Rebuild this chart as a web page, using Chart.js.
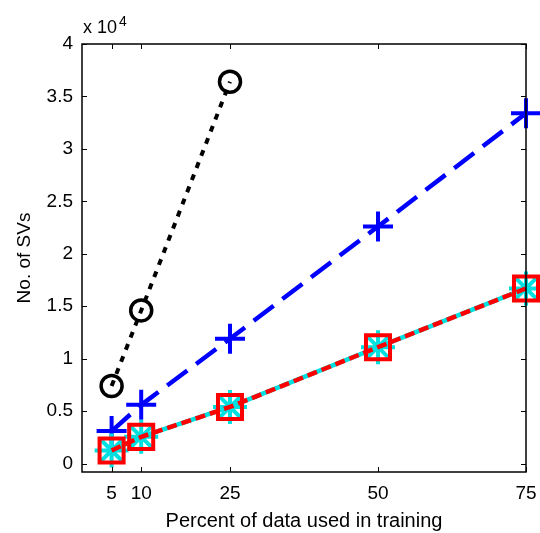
<!DOCTYPE html>
<html>
<head>
<meta charset="utf-8">
<script src="https://cdn.jsdelivr.net/npm/chart.js@4.4.1/dist/chart.umd.min.js"></script>
<style>
  html, body { margin: 0; padding: 0; background: #fff; }
  #wrap { width: 540px; height: 533px; }
</style>
</head>
<body>
<div id="wrap"><canvas id="svChart"></canvas></div>
<script>
// percent of data used in training
const percents = [5, 10, 25, 50, 75];
// number of support vectors per method
const blackCircles = [7400, 14600, 36400];
const blueCrosses = [3100, 5600, 11900, 22600, 33400];
const redSquares = [1250, 2550, 5400, 11100, 16700];
const cyanStars = [1250, 2550, 5400, 11100, 16700];

const xTicks = [5, 10, 25, 50, 75];
const yTicks = [0, 5000, 10000, 15000, 20000, 25000, 30000, 35000, 40000];
const yTickLabels = ['0', '0.5', '1', '1.5', '2', '2.5', '3', '3.5', '4'];

const FONT = 'Liberation Sans, Arial, Helvetica, sans-serif';

function pts(xs, ys) {
    return ys.map((y, i) => ({ x: xs[i], y: y }));
}

// box around the axes with inward ticks, plus the "x 10^4" exponent
const boxPlugin = {
    id: 'box',
    afterDraw(chart) {
        const ctx = chart.ctx;
        const a = chart.chartArea;
        const xs = chart.scales.x, ys = chart.scales.y;
        ctx.save();
        ctx.strokeStyle = '#000';
        ctx.lineWidth = 1.5;
        ctx.strokeRect(a.left, a.top, a.right - a.left, a.bottom - a.top);
        ctx.beginPath();
        xTicks.forEach(v => {
            const px = Math.round(xs.getPixelForValue(v)) + 0.5;
            ctx.moveTo(px, a.bottom); ctx.lineTo(px, a.bottom - 5);
            ctx.moveTo(px, a.top); ctx.lineTo(px, a.top + 5);
        });
        yTicks.forEach(v => {
            const py = Math.round(ys.getPixelForValue(v)) + 0.5;
            ctx.moveTo(a.left, py); ctx.lineTo(a.left + 5, py);
            ctx.moveTo(a.right, py); ctx.lineTo(a.right - 5, py);
        });
        ctx.lineWidth = 1;
        ctx.stroke();

        ctx.fillStyle = '#000';
        ctx.textBaseline = 'alphabetic';
        ctx.textAlign = 'left';
        ctx.font = '18px ' + FONT;
        ctx.fillText('x 10', a.left + 1, a.top - 11);
        const w = ctx.measureText('x 10').width;
        ctx.font = '14px ' + FONT;
        ctx.fillText('4', a.left + w + 3, a.top - 18);
        ctx.restore();
    }
};

new Chart(document.getElementById('svChart'), {
    type: 'scatter',
    data: {
        datasets: [
            {
                data: pts(percents, blackCircles),
                showLine: true,
                borderColor: '#000',
                borderWidth: 4,
                borderDash: [6, 7],
                pointStyle: 'circle',
                pointRadius: 10.5,
                pointBorderWidth: 3.5,
                pointBackgroundColor: 'rgba(0,0,0,0)',
                pointBorderColor: '#000',
                clip: false,
                order: 3
            },
            {
                data: pts(percents, blueCrosses),
                showLine: true,
                borderColor: '#0000ff',
                borderWidth: 4.5,
                borderDash: [25, 11],
                pointStyle: 'cross',
                pointRadius: 15,
                pointBorderWidth: 4,
                pointBorderColor: '#0000ff',
                clip: false,
                order: 2
            },
            {
                data: pts(percents, cyanStars),
                showLine: true,
                borderColor: '#00e0e0',
                borderWidth: 4.5,
                pointStyle: 'star',
                pointRadius: 17,
                pointBorderWidth: 4,
                pointBorderColor: '#00e0e0',
                clip: false,
                order: 1
            },
            {
                data: pts(percents, redSquares),
                showLine: true,
                borderColor: '#ff0000',
                borderWidth: 4.5,
                borderDash: [10, 5],
                pointStyle: 'rect',
                pointRadius: 17,
                pointBorderWidth: 4,
                pointBackgroundColor: 'rgba(0,0,0,0)',
                pointBorderColor: '#ff0000',
                clip: false,
                order: 0
            }
        ]
    },
    options: {
        responsive: true,
        maintainAspectRatio: false,
        animation: false,
        events: [],
        layout: { autoPadding: false, padding: { left: 0, top: 44, right: 14, bottom: 0 } },
        plugins: { legend: { display: false }, tooltip: { enabled: false } },
        scales: {
            x: {
                type: 'linear',
                min: 0,
                max: 75,
                grid: { display: false, drawTicks: false },
                border: { display: false },
                afterBuildTicks: s => { s.ticks = xTicks.map(v => ({ value: v })); },
                afterFit: s => { s.height = 61; s.paddingLeft = 0; s.paddingRight = 0; },
                ticks: {
                    padding: 10,
                    color: '#000',
                    font: { family: FONT, size: 19 },
                    maxRotation: 0,
                    callback: v => String(v)
                },
                title: {
                    display: true,
                    text: 'Percent of data used in training',
                    color: '#000',
                    font: { family: FONT, size: 20 },
                    padding: { top: 4, bottom: 0 }
                }
            },
            y: {
                type: 'linear',
                min: -800,
                max: 40000,
                grid: { display: false, drawTicks: false },
                border: { display: false },
                afterBuildTicks: s => { s.ticks = yTicks.map(v => ({ value: v })); },
                afterFit: s => { s.width = 82; s.paddingTop = 0; s.paddingBottom = 0; },
                ticks: {
                    padding: 9,
                    color: '#000',
                    font: { family: FONT, size: 19 },
                    callback: v => yTickLabels[yTicks.indexOf(v)]
                },
                title: {
                    display: true,
                    text: 'No. of SVs',
                    color: '#000',
                    font: { family: FONT, size: 19 },
                    padding: { top: 13, bottom: 6 }
                }
            }
        }
    },
    plugins: [boxPlugin]
});
</script>
</body>
</html>
